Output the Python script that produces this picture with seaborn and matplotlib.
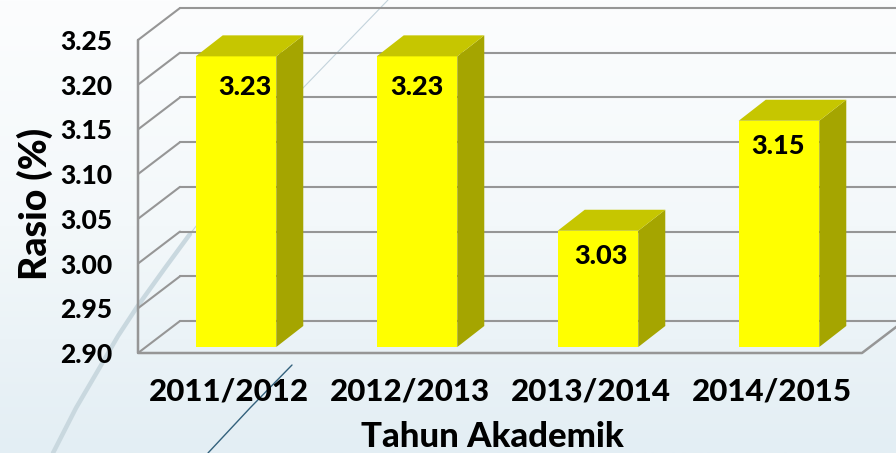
import numpy as np
import pandas as pd
import seaborn as sns
import matplotlib.pyplot as plt
from matplotlib.colors import LinearSegmentedColormap
from matplotlib.lines import Line2D
from matplotlib.patches import Polygon
from matplotlib.transforms import Affine2D

years = ['2011/2012', '2012/2013', '2013/2014', '2014/2015']
rasio = [3.225, 3.225, 3.03, 3.153]
labels = ['3.23', '3.23', '3.03', '3.15']
yticks = [2.90, 2.95, 3.00, 3.05, 3.10, 3.15, 3.20, 3.25]

# posisi label di dalam batang (px dari pusat atas batang)
label_dx = [9, 0, 2.5, -1]
label_dy = [-31, -31, -25, -25]

sns.set_theme(style='white')
plt.rcParams['font.family'] = ['Lato', 'DejaVu Sans']

W, H = 896, 453
GRID = '#969696'
WEIGHT = 'black'

fig = plt.figure(figsize=(W / 100, H / 100), dpi=100)

# latar gradasi + garis hiasan
bg = fig.add_axes([0, 0, 1, 1], zorder=-1)
cmap = LinearSegmentedColormap.from_list('bg', ['#fcfdfe', '#f3f8fa', '#e3eef4'])
bg.imshow(np.linspace(0, 1, 256).reshape(-1, 1), cmap=cmap, aspect='auto', extent=[0, W, H, 0])
bg.plot([53, 76, 100, 118, 137, 165, 190], [453, 408, 367, 336, 307, 268, 234], color='#c9d8df', lw=3.2)
bg.plot([190, 303, 388], [234, 88, 0], color='#c3d3dc', lw=0.8)
bg.plot([208, 250, 292], [453, 408, 365], color='#33617c', lw=1.0)
bg.set_xlim(0, W)
bg.set_ylim(H, 0)
bg.axis('off')

# bidang depan sumbu: x 138-862, y 40-353 (px)
ax = fig.add_axes([138 / W, 1 - 353 / H, 724 / W, 313 / H])
ax.patch.set_alpha(0)

df = pd.DataFrame({'tahun': years, 'rasio': rasio})
sns.barplot(data=df, x='tahun', y='rasio', color='#ffff00', saturation=1, width=0.445, ax=ax, zorder=3)

ax.set_xlim(-0.5, 3.5)
ax.set_ylim(yticks[0], yticks[-1])
ax.set_yticks(yticks, [f'{t:.2f}' for t in yticks])
sns.despine(ax=ax, left=True, bottom=True)
ax.tick_params(axis='y', length=0, pad=18.5, labelsize=19)
ax.tick_params(axis='x', length=0, pad=18, labelsize=22.5)
for t in ax.get_xticklabels() + ax.get_yticklabels():
    t.set_fontweight(WEIGHT)
    t.set_color('black')

ax.set_xlabel('Tahun Akademik', fontsize=25, fontweight=WEIGHT, color='black', va='center')
ax.xaxis.set_label_coords(0.489, -0.268)
ax.set_ylabel('Rasio (%)', fontsize=27, fontweight=WEIGHT, color='black', va='center')
ax.yaxis.set_label_coords(-0.143, 0.476)

# dinding 3D
back = ax.transData + Affine2D().translate(42, 32)
for t in yticks:
    ax.add_line(Line2D([-0.5, 3.5 + 0.3], [t, t], transform=back, color=GRID, lw=1.5, clip_on=False, zorder=1))
    x0, y0 = ax.transData.transform((-0.5, t))
    ax.add_line(Line2D([x0, x0 + 42], [y0, y0 + 32], transform=None, color=GRID, lw=1.5, clip_on=False, zorder=1))
x0, y0 = ax.transData.transform((-0.5, yticks[0]))
x1, y1 = ax.transData.transform((-0.5, yticks[-1]))
x2, y2 = ax.transData.transform((3.5, yticks[0]))
ax.add_line(Line2D([x1, x0, x2, x2 + 42], [y1, y0, y2, y2 + 32], transform=None, color=GRID, lw=1.8, clip_on=False, zorder=2))

# batang digeser ke tengah kedalaman, ditambah sisi dan atas
shift = Affine2D().translate(7.5, 6)
depth_x, depth_y = 27, 21
for i, p in enumerate(ax.patches):
    h = p.get_height()
    p.set_y(yticks[0])
    p.set_height(h - yticks[0])
    p.set_linewidth(0)
    p.set_clip_on(False)
    p.set_transform(ax.transData + shift)
    (l, b), (r, t) = (ax.transData + shift).transform(
        [(p.get_x(), yticks[0]), (p.get_x() + p.get_width(), h)])
    ax.add_patch(Polygon([(r, b), (r + depth_x, b + depth_y), (r + depth_x, t + depth_y), (r, t)],
                         transform=None, fc='#a5a500', ec='none', clip_on=False, zorder=3))
    ax.add_patch(Polygon([(l, t), (r, t), (r + depth_x, t + depth_y), (l + depth_x, t + depth_y)],
                         transform=None, fc='#c6c600', ec='none', clip_on=False, zorder=3))
    px = (l + r) / 2 + label_dx[i]
    py = t + label_dy[i]
    ax.text(px, py, labels[i], transform=None, ha='center', va='center', fontsize=19.5,
            fontweight=WEIGHT, color='black', zorder=5)

fig.savefig('out.png', dpi=100)
